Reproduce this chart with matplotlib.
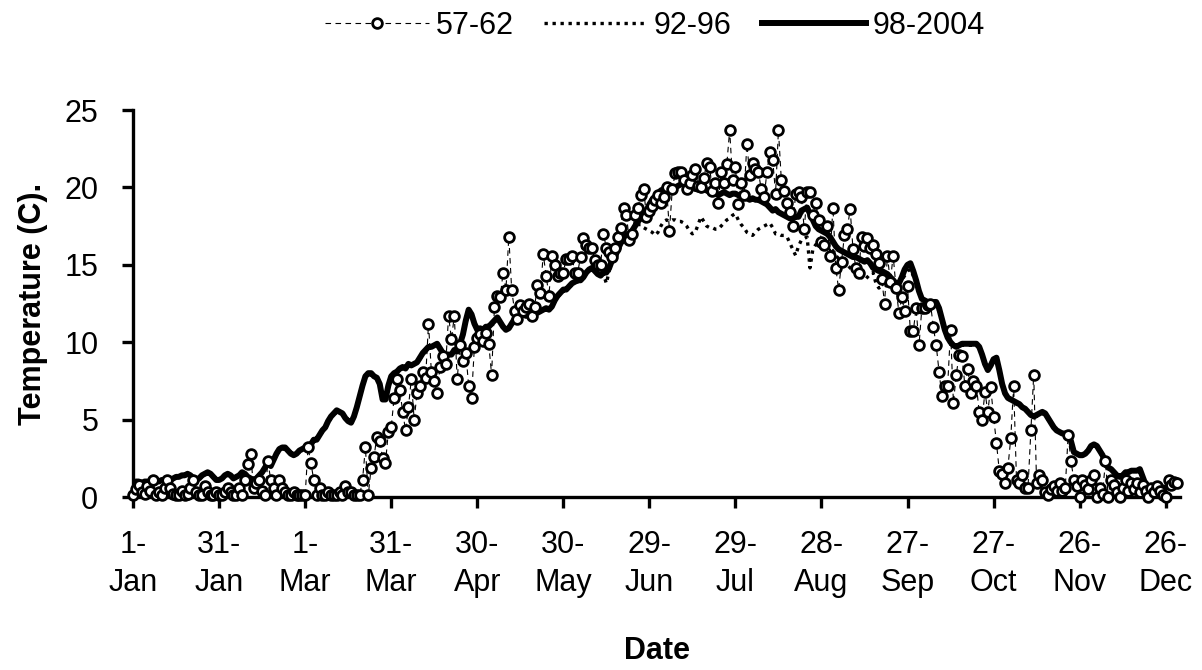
import numpy as np
import matplotlib.pyplot as plt

plt.rcParams['font.family'] = ['Liberation Sans', 'DejaVu Sans']

# daily mean temperature (C), day 0 = 1 Jan
t_57_62 = [
    0.1, 0.5, 0.8, 0.3, 0.2, 0.7, 0.4, 1.1, 0.1, 0.3,
    0.1, 0.6, 1.1, 0.6, 0.2, 0.1, 0.1, 0.4, 0.1, 0.2,
    0.6, 1.1, 0.3, 0.1, 0.1, 0.7, 0.3, 0.1, 0.1, 0.3,
    0.1, 0.1, 0.3, 0.6, 0.3, 0.1, 0.1, 0.6, 0.1, 1.1,
    2.1, 2.8, 0.6, 0.9, 1.1, 0.4, 0.1, 2.3, 1.1, 0.6,
    0.1, 1.1, 0.6, 0.3, 0.1, 0.1, 0.3, 0.1, 0.1, 0.1,
    0.1, 3.2, 2.2, 1.1, 0.1, 0.6, 0.1, 0.1, 0.3, 0.1,
    0.1, 0.1, 0.3, 0.1, 0.7, 0.3, 0.3, 0.1, 0.1, 0.1,
    1.1, 3.2, 0.1, 1.9, 2.6, 3.9, 3.6, 2.5, 2.2, 4.2,
    4.5, 6.4, 7.6, 6.9, 5.5, 4.3, 5.8, 7.6, 5.0, 6.7,
    7.2, 8.1, 7.7, 11.2, 8.1, 7.5, 6.7, 8.4, 9.1, 8.6,
    11.7, 10.2, 11.7, 7.6, 9.8, 8.8, 9.3, 7.2, 6.4, 9.7,
    10.3, 10.5, 10.1, 10.6, 9.9, 7.9, 12.3, 13.0, 12.9, 14.5,
    13.4, 16.8, 13.4, 12.0, 11.5, 12.4, 12.0, 12.3, 12.5, 11.7,
    12.3, 13.7, 13.2, 15.7, 14.3, 13.0, 15.6, 15.0, 14.3, 14.5,
    14.5, 15.4, 15.4, 15.6, 14.5, 14.5, 15.5, 16.7, 16.3, 16.1,
    16.1, 15.3, 15.0, 15.0, 17.0, 16.1, 15.8, 15.5, 16.1, 16.8,
    17.4, 18.7, 18.2, 16.6, 17.0, 18.2, 18.7, 19.5, 19.9, 18.1,
    18.5, 18.8, 19.2, 19.5, 19.0, 19.4, 20.0, 17.2, 19.9, 20.9,
    21.0, 21.0, 20.5, 19.9, 20.3, 20.8, 21.2, 20.1, 20.0, 20.6,
    21.6, 21.3, 19.8, 20.3, 19.0, 21.0, 20.3, 21.5, 23.7, 20.5,
    21.3, 18.9, 20.3, 19.5, 22.8, 20.8, 21.6, 21.2, 21.0, 19.9,
    19.4, 21.0, 22.3, 21.8, 19.6, 23.7, 20.5, 19.8, 19.0, 18.4,
    17.5, 19.6, 19.7, 19.4, 17.3, 19.7, 19.7, 18.2, 19.0, 17.9,
    16.5, 16.3, 17.5, 15.6, 18.7, 14.8, 13.4, 15.2, 16.9, 17.3,
    18.6, 16.0, 14.8, 14.5, 16.8, 16.2, 16.7, 16.1, 16.3, 15.7,
    15.1, 14.1, 12.5, 15.6, 13.9, 15.6, 13.5, 11.9, 12.9, 12.0,
    13.6, 10.7, 10.7, 12.2, 9.8, 12.2, 12.2, 12.4, 12.5, 11.0,
    9.8, 8.1, 6.5, 7.2, 7.2, 10.8, 6.1, 7.9, 9.2, 9.1,
    7.2, 8.3, 6.7, 7.5, 7.2, 5.5, 5.0, 6.8, 5.5, 7.1,
    5.2, 3.5, 1.7, 1.5, 0.9, 1.9, 3.8, 7.2, 1.1, 0.9,
    1.4, 0.6, 0.6, 4.3, 7.9, 0.9, 1.4, 1.1, 0.3, 0.1,
    0.5, 0.7, 0.4, 0.9, 0.4, 0.6, 4.0, 2.3, 1.1, 0.7,
    0.0, 1.1, 0.8, 0.5, 1.1, 1.4, 0.0, 0.6, 0.2, 2.3,
    0.0, 1.1, 0.8, 0.3, 0.0, 0.6, 1.1, 0.4, 0.9, 0.5,
    0.9, 0.3, 0.8, 0.4, 0.0, 0.6, 0.3, 0.7, 0.4, 0.1,
    0.0, 1.1, 0.8, 1.0, 0.9,
]

t_92_96 = [
    0.8, 0.9, 1.0, 1.0, 0.9, 0.9, 1.0, 1.0, 1.0, 1.1,
    1.1, 1.0, 1.0, 1.1, 1.2, 1.2, 1.3, 1.3, 1.4, 1.4,
    1.4, 1.3, 1.2, 1.2, 1.3, 1.4, 1.5, 1.5, 1.3, 1.2,
    1.1, 1.2, 1.3, 1.4, 1.4, 1.3, 1.3, 1.4, 1.5, 1.5,
    1.4, 1.2, 1.2, 1.2, 1.4, 1.6, 1.8, 2.1, 2.1, 2.4,
    2.7, 3.0, 3.1, 3.1, 3.0, 2.9, 2.8, 2.8, 2.9, 3.0,
    3.1, 3.2, 3.3, 3.6, 3.7, 3.9, 4.2, 4.4, 4.8, 5.1,
    5.3, 5.5, 5.5, 5.4, 5.2, 5.0, 4.9, 5.1, 5.7, 6.4,
    7.1, 7.7, 7.9, 7.9, 7.8, 7.6, 7.2, 6.4, 6.4, 7.1,
    7.7, 7.9, 8.0, 8.2, 8.3, 8.3, 8.5, 8.5, 8.6, 8.7,
    8.9, 9.2, 9.4, 9.6, 9.7, 9.7, 9.8, 9.6, 9.4, 9.2,
    9.2, 9.3, 9.4, 9.4, 9.8, 10.4, 11.2, 11.9, 11.7, 11.2,
    10.9, 10.9, 10.8, 10.9, 11.0, 11.1, 11.3, 11.5, 11.3, 11.1,
    10.9, 11.0, 11.2, 11.4, 11.5, 11.6, 11.7, 11.7, 11.8, 11.8,
    11.9, 12.0, 12.0, 12.1, 12.1, 12.2, 12.4, 12.6, 12.9, 13.1,
    13.3, 13.4, 13.5, 13.7, 13.8, 13.9, 14.0, 14.1, 14.4, 14.6,
    14.7, 14.6, 14.4, 14.3, 14.4, 13.8, 14.6, 15.2, 15.4, 15.8,
    16.2, 16.5, 16.8, 16.9, 17.1, 17.3, 17.6, 17.6, 17.4, 17.3,
    17.2, 17.1, 16.9, 17.1, 17.5, 17.8, 17.9, 17.8, 17.9, 17.9,
    17.8, 17.8, 17.7, 17.5, 17.2, 17.0, 17.1, 17.6, 18.1, 17.8,
    17.5, 17.4, 17.4, 17.3, 17.3, 17.5, 17.7, 17.9, 18.0, 18.2,
    18.3, 17.9, 17.6, 17.4, 17.1, 17.0, 16.9, 17.1, 17.3, 17.4,
    17.5, 17.6, 17.7, 17.4, 17.0, 17.0, 16.9, 16.9, 16.8, 16.4,
    16.0, 15.6, 16.2, 16.6, 16.7, 16.8, 14.8, 16.0, 16.3, 16.4,
    16.5, 16.6, 16.4, 16.1, 15.9, 15.6, 15.4, 15.3, 15.2, 15.0,
    14.8, 14.6, 14.5, 14.4, 14.2, 14.0, 14.2, 14.4, 14.5, 13.8,
    13.5, 13.6, 13.7, 13.6, 13.5, 13.6, 13.6, 13.8, 14.0, 14.3,
    14.6, 14.7, 14.3, 13.8, 13.2, 12.8, 12.6, 12.5, 12.5, 12.4,
    12.4, 12.0, 11.4, 10.8, 10.3, 10.0, 9.8, 9.7, 9.8, 9.8,
    9.8, 9.8, 9.8, 9.8, 9.8, 9.6, 9.1, 8.6, 8.3, 8.5,
    8.8, 8.9, 8.1, 7.3, 6.7, 6.4, 6.2, 6.1, 6.0, 5.9,
    5.8, 5.6, 5.5, 5.3, 5.2, 5.2, 5.3, 5.4, 5.3, 5.0,
    4.7, 4.5, 4.3, 4.2, 4.1, 4.0, 3.9, 3.5, 2.9, 2.8,
    2.7, 2.7, 2.8, 3.0, 3.2, 3.3, 3.2, 2.9, 2.6, 2.2,
    1.9, 1.7, 1.5, 1.4, 1.3, 1.4, 1.5, 1.6, 1.6, 1.7,
    1.7, 1.7, 1.2, 0.8, 0.6, 0.6, 0.5, 0.5, 0.6, 0.6,
    0.6, 0.6, 0.7, 0.7, 0.7,
]

t_98_2004 = [
    0.9, 1.0, 1.0, 0.9, 1.0, 1.0, 0.9, 1.0, 1.1, 1.0,
    1.1, 1.1, 1.0, 1.1, 1.2, 1.3, 1.3, 1.4, 1.4, 1.5,
    1.4, 1.2, 1.1, 1.2, 1.4, 1.5, 1.6, 1.5, 1.3, 1.1,
    1.1, 1.2, 1.4, 1.5, 1.4, 1.2, 1.3, 1.4, 1.6, 1.5,
    1.3, 1.2, 1.1, 1.2, 1.4, 1.6, 1.9, 2.2, 2.0, 2.4,
    2.8, 3.1, 3.2, 3.2, 3.0, 2.8, 2.7, 2.8, 3.0, 3.1,
    3.2, 3.2, 3.4, 3.7, 3.7, 4.0, 4.3, 4.5, 4.9, 5.2,
    5.4, 5.6, 5.5, 5.4, 5.1, 4.9, 4.8, 5.2, 5.8, 6.5,
    7.2, 7.8, 8.0, 8.0, 7.8, 7.7, 7.3, 6.3, 6.3, 7.2,
    7.8, 8.0, 8.1, 8.3, 8.4, 8.3, 8.6, 8.5, 8.6, 8.7,
    9.0, 9.3, 9.5, 9.7, 9.7, 9.8, 9.9, 9.6, 9.3, 9.2,
    9.2, 9.2, 9.5, 9.4, 9.9, 10.5, 11.4, 12.1, 11.8, 11.2,
    10.8, 10.9, 10.8, 11.0, 11.0, 11.2, 11.4, 11.6, 11.3, 11.0,
    10.8, 10.9, 11.2, 11.5, 11.6, 11.7, 11.8, 11.7, 11.8, 11.9,
    11.9, 11.9, 12.0, 12.1, 12.2, 12.1, 12.3, 12.7, 13.0, 13.2,
    13.4, 13.4, 13.6, 13.8, 13.9, 14.0, 14.0, 14.2, 14.5, 14.7,
    14.8, 14.6, 14.4, 14.3, 14.5, 14.5, 14.8, 15.3, 15.5, 16.0,
    16.4, 16.7, 16.9, 17.0, 17.2, 17.5, 17.8, 18.0, 18.3, 18.5,
    18.9, 19.2, 19.4, 19.6, 19.8, 19.9, 20.0, 20.1, 20.0, 20.0,
    20.1, 20.2, 20.3, 20.3, 20.1, 20.0, 19.9, 19.9, 19.8, 19.9,
    19.8, 19.7, 19.6, 19.6, 19.5, 19.6, 19.7, 19.6, 19.5, 19.6,
    19.6, 19.5, 19.4, 19.3, 19.3, 19.2, 19.3, 19.2, 19.2, 19.1,
    19.0, 18.9, 18.7, 18.5, 18.6, 18.4, 18.3, 18.2, 18.1, 18.0,
    18.0, 18.1, 18.1, 18.5, 18.6, 18.7, 18.3, 17.9, 17.5, 17.3,
    17.2, 17.1, 17.0, 16.8, 16.5, 16.2, 16.0, 15.9, 15.8, 15.7,
    15.6, 15.5, 15.5, 15.4, 15.3, 15.2, 15.3, 15.1, 14.8, 14.7,
    14.6, 14.6, 14.5, 14.4, 14.2, 14.0, 13.8, 13.8, 14.2, 14.7,
    15.0, 15.1, 14.6, 14.0, 13.3, 12.8, 12.7, 12.6, 12.6, 12.6,
    12.6, 12.2, 11.5, 10.8, 10.3, 10.0, 9.8, 9.7, 9.8, 9.9,
    9.9, 9.9, 9.9, 9.9, 9.9, 9.7, 9.2, 8.6, 8.2, 8.5,
    8.9, 9.0, 8.2, 7.3, 6.7, 6.4, 6.3, 6.2, 6.1, 6.0,
    5.8, 5.7, 5.5, 5.3, 5.2, 5.3, 5.4, 5.5, 5.4, 5.1,
    4.8, 4.5, 4.3, 4.2, 4.1, 4.1, 4.0, 3.6, 2.9, 2.8,
    2.7, 2.7, 2.8, 3.0, 3.3, 3.4, 3.3, 3.0, 2.7, 2.2,
    1.9, 1.8, 1.6, 1.4, 1.3, 1.4, 1.6, 1.6, 1.7, 1.7,
    1.7, 1.8, 1.3, 0.8, 0.6, 0.6, 0.5, 0.6, 0.7, 0.6,
    0.6, 0.7, 0.7, 0.7, 0.8,
]

tick_days = [0, 30, 60, 90, 120, 150, 180, 210, 240, 270, 300, 330, 360]
tick_labels = ['1-\nJan', '31-\nJan', '1-\nMar', '31-\nMar', '30-\nApr', '30-\nMay',
               '29-\nJun', '29-\nJul', '28-\nAug', '27-\nSep', '27-\nOct', '26-\nNov',
               '26-\nDec']

days = np.arange(len(t_57_62))

fig = plt.figure(figsize=(12.02, 6.70), dpi=100)
ax = fig.add_axes([0.1107, 0.2582, 0.8710, 0.5776])

l2, = ax.plot(days, t_92_96, color='black', lw=2.4, ls=(0, (1.0, 1.4)),
              label='92-96', zorder=2)
l3, = ax.plot(days, t_98_2004, color='black', lw=4.3, label='98-2004', zorder=3)
l1, = ax.plot(days, t_57_62, color='black', lw=0.8, ls=(0, (5, 4)), marker='o',
              ms=7, mfc='white', mec='black', mew=2.0, label='57-62', zorder=4,
              clip_on=False)

ax.set_xlim(0, 365)
ax.set_ylim(0, 25)
ax.set_yticks([0, 5, 10, 15, 20, 25])
ax.set_xticks(tick_days)
ax.set_xticklabels(tick_labels, linespacing=1.35)

for s in ['top', 'right']:
    ax.spines[s].set_visible(False)
for s in ['left', 'bottom']:
    ax.spines[s].set_linewidth(2.4)

ax.tick_params(axis='both', direction='out', length=8, width=2.4, labelsize=22)
ax.tick_params(axis='y', pad=17)
ax.tick_params(axis='x', pad=16)

ax.set_xlabel('Date', fontsize=22, fontweight='bold', labelpad=27)
ax.set_ylabel('Temperature (C).', fontsize=22, fontweight='bold', labelpad=12)

fig.legend(handles=[l1, l2, l3], loc='upper center', bbox_to_anchor=(0.545, 1.025),
           ncol=3, frameon=False, fontsize=22, handlelength=3.4, handletextpad=0.2,
           columnspacing=1.0, numpoints=1)

fig.savefig('out.png', dpi=100)
